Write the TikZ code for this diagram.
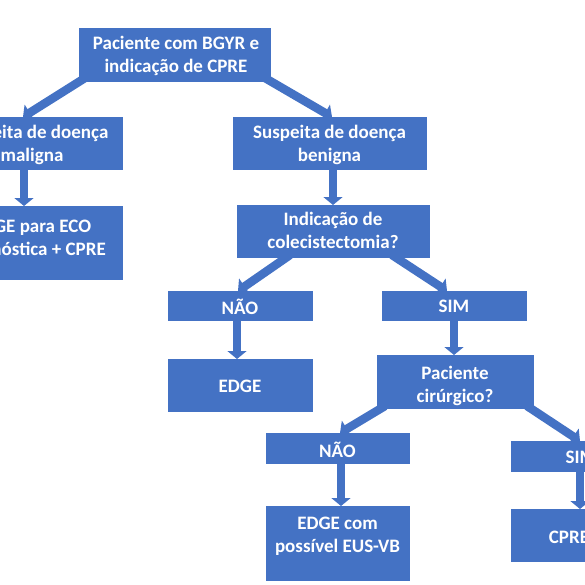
\documentclass[tikz,border=0pt]{standalone}
\usepackage{fontspec}
\setmainfont{Carlito}
\usetikzlibrary{arrows.meta,calc}
\definecolor{obl}{HTML}{4472C4}
\begin{document}
\begin{tikzpicture}[x=1pt,y=-1pt,
  box/.style={draw=obl,fill=obl,inner sep=0pt,outer sep=0pt,line width=0.6pt},
  txt/.style={text=white,font=\fontsize{19}{23}\selectfont\bfseries,align=center,inner sep=0pt},
  arr/.style={draw=obl,line width=8.5pt,-{Triangle[width=19pt,length=8pt]}}]
\useasboundingbox (0,0) rectangle (585,585);
\clip (0,0) rectangle (585,585);
% boxes
\node[box,minimum width=191pt,minimum height=53pt] (top) at (174.5,54.5) {};
\node[box,minimum width=180pt,minimum height=52pt] (mal) at (32,143) {};
\node[box,minimum width=180pt,minimum height=73pt] (edp) at (32,242.5) {};
\node[box,minimum width=193pt,minimum height=52pt] (ben) at (329.5,143) {};
\node[box,minimum width=192pt,minimum height=52pt] (ind) at (333,231) {};
\node[box,minimum width=144pt,minimum height=29pt] (nao1) at (240,305.5) {};
\node[box,minimum width=144pt,minimum height=29pt] (sim1) at (454,305.5) {};
\node[box,minimum width=144pt,minimum height=52pt] (edge) at (240,385) {};
\node[box,minimum width=156pt,minimum height=53pt] (pac) at (455,381.5) {};
\node[box,minimum width=143pt,minimum height=30pt] (nao2) at (337.5,448) {};
\node[box,minimum width=143pt,minimum height=74pt] (edc) at (337.5,543) {};
\node[box,minimum width=140pt,minimum height=30pt] (sim2) at (581,456) {};
\node[box,minimum width=116pt,minimum height=52pt] (cpre) at (569,535) {};
% texts
\node[txt] (ttop) at ($(top.center)+(1.5,1)$) {Paciente com BGYR e\\indicação de CPRE};
\node[txt] (tmal) at ($(mal.center)+(0,2)$) {Suspeita de doença\\maligna};
\node[txt] (tedp) at ($(edp.center)+(0,-3)$) {EDGE para ECO\\diagnóstica + CPRE};
\node[txt] (tben) at ($(ben.center)+(0,2)$) {Suspeita de doença\\benigna};
\node[txt] (tind) at ($(ind.center)+(0,-1)$) {Indicação de\\colecistectomia?};
\node[txt] (tnao1) at ($(nao1.center)+(0,1)$) {NÃO};
\node[txt] (tsim1) at ($(sim1.center)+(0,1)$) {SIM};
\node[txt] (tedge) at ($(edge.center)+(0,1)$) {EDGE};
\node[txt] (tpac) at ($(pac.center)+(0,4)$) {Paciente\\cirúrgico?};
\node[txt] (tnao2) at ($(nao2.center)+(0,2)$) {NÃO};
\node[txt] (tedc) at ($(edc.center)+(0,-7)$) {EDGE com\\possível EUS-VB};
\node[txt] (tsim2) at ($(sim2.center)+(0,1)$) {SIM};
\node[txt] (tcpre) at ($(cpre.center)+(0,2)$) {CPRE};
% arrows
\coordinate (a1) at ($(top.south west)+(6,-3)$);
\coordinate (a2) at ($(top.south east)+(-5,-3)$);
\coordinate (a3) at ($(ind.south west)+(53,-2)$);
\coordinate (a4) at ($(ind.south east)+(-37,-2)$);
\coordinate (a5) at ($(pac.south west)+(8,-2)$);
\coordinate (a6) at ($(pac.south east)+(-6,-2)$);
\draw[arr] (a1) -- (mal.north west -| 23,0);
\draw[arr] (a2) -- (ben.north west -| 332,0);
\draw[arr] (mal.south -| 24,0) -- (edp.north -| 24,0);
\draw[arr] (ben.south -| 333,0) -- (ind.north -| 333,0);
\draw[arr] (a3) -- (nao1.north -| 238,0);
\draw[arr] (a4) -- (sim1.north -| 447,0);
\draw[arr] (nao1.south -| 237,0) -- (edge.north -| 237,0);
\draw[arr] (sim1.south -| 454,0) -- (pac.north -| 454,0);
\draw[arr] (a5) -- (nao2.north -| 340,0);
\draw[arr] (nao2.south -| 341,0) -- (edc.north -| 341,0);
\draw[arr] (a6) -- (sim2.north -| 580,0);
\draw[arr] (sim2.south -| 580,0) -- (cpre.north -| 580,0);
\end{tikzpicture}
\end{document}
